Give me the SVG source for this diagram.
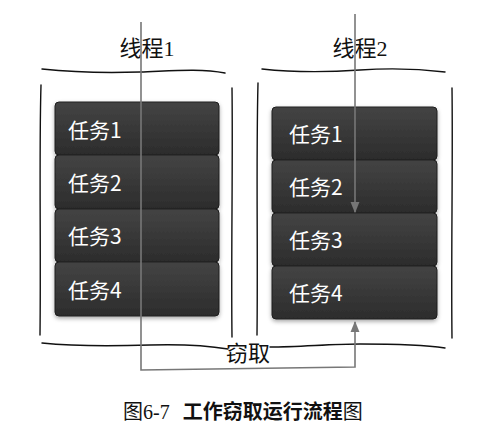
<svg xmlns="http://www.w3.org/2000/svg" width="498" height="445" viewBox="0 0 498 445">
<defs>
<linearGradient id="g" x1="0" y1="0" x2="0" y2="1">
<stop offset="0" stop-color="#444"/>
<stop offset="1" stop-color="#2c2c2c"/>
</linearGradient>
<filter id="sh" x="-10%" y="-10%" width="120%" height="130%">
<feDropShadow dx="0" dy="2" stdDeviation="2" flood-color="#000" flood-opacity="0.35"/>
</filter>
<marker id="ah" viewBox="0 0 10 10" refX="9" refY="5" markerWidth="7" markerHeight="7" orient="auto">
<path d="M0,1 L10,5 L0,9 Z" fill="#777"/>
</marker>
</defs>
<style>
.box{fill:url(#g);stroke:#1e1e1e;stroke-width:1}
.tl{fill:#fff;font-family:"Noto Sans CJK SC",sans-serif;font-size:21px}
.hd{fill:#111;font-family:"Liberation Serif","Noto Sans CJK SC",serif;font-size:22px}
.hand{fill:none;stroke:#111;stroke-width:1.4;stroke-linecap:round}
.con{fill:none;stroke:#777;stroke-width:1.6}
</style>
<rect width="498" height="445" fill="#fff"/>
<g id="hand-drawn">
<path class="hand" d="M42,69 C70,72 110,73 140,72 C170,71 200,68 225,73"/>
<path class="hand" d="M262,69 C300,73 330,72 360,70 C390,68 420,69 445,72"/>
<path class="hand" d="M41,85 C39,150 41,250 40,335"/>
<path class="hand" d="M232,88 C233,160 231,260 232,337"/>
<path class="hand" d="M258,83 C256,160 258,250 257,335"/>
<path class="hand" d="M452,88 C453,160 451,260 452,338"/>
<path class="hand" d="M42,343 C80,347 120,346 150,345 C185,344 210,346 228,349"/>
<path class="hand" d="M270,347 C300,347 330,344 360,344 C400,344 425,345 445,348"/>
</g>
<g id="thread1">
<text class="hd" x="147" y="56" text-anchor="middle">线程1</text>
</g>
<g id="thread2">
<text class="hd" x="360" y="56" text-anchor="middle">线程2</text>
</g>
<g id="t1-task1"><rect class="box" filter="url(#sh)" x="55" y="102" width="164" height="53" rx="4"/><text class="tl" x="68" y="138">任务1</text></g>
<g id="t1-task2"><rect class="box" filter="url(#sh)" x="55" y="155" width="164" height="54" rx="4"/><text class="tl" x="68" y="191">任务2</text></g>
<g id="t1-task3"><rect class="box" filter="url(#sh)" x="55" y="209" width="164" height="53" rx="4"/><text class="tl" x="68" y="244">任务3</text></g>
<g id="t1-task4"><rect class="box" filter="url(#sh)" x="55" y="262" width="164" height="54" rx="4"/><text class="tl" x="68" y="298">任务4</text></g>
<g id="t2-task1"><rect class="box" filter="url(#sh)" x="272" y="107" width="165" height="53" rx="4"/><text class="tl" x="289" y="142">任务1</text></g>
<g id="t2-task2"><rect class="box" filter="url(#sh)" x="272" y="160" width="165" height="53" rx="4"/><text class="tl" x="289" y="195">任务2</text></g>
<g id="t2-task3"><rect class="box" filter="url(#sh)" x="272" y="213" width="165" height="53" rx="4"/><text class="tl" x="289" y="248">任务3</text></g>
<g id="t2-task4"><rect class="box" filter="url(#sh)" x="272" y="266" width="165" height="53" rx="4"/><text class="tl" x="289" y="301">任务4</text></g>
<g id="connectors">
<path class="con" d="M141,22 L141,370 L355,367 L355,322" marker-end="url(#ah)"/>
<path class="con" d="M355,14 L355,212" marker-end="url(#ah)"/>
</g>
<g id="steal-label">
<text class="hd" x="248" y="361" text-anchor="middle">窃取</text>
</g>
<g id="caption">
<text x="123" y="419" style="font-size:20px;fill:#111"><tspan style="font-family:'Liberation Serif','Noto Sans CJK SC',serif">图6-7</tspan><tspan dx="13" style="font-family:'Noto Sans CJK SC',sans-serif;font-weight:bold">工作窃取运行流程</tspan><tspan style="font-family:'Liberation Serif','Noto Sans CJK SC',serif">图</tspan></text>
</g>
</svg>
